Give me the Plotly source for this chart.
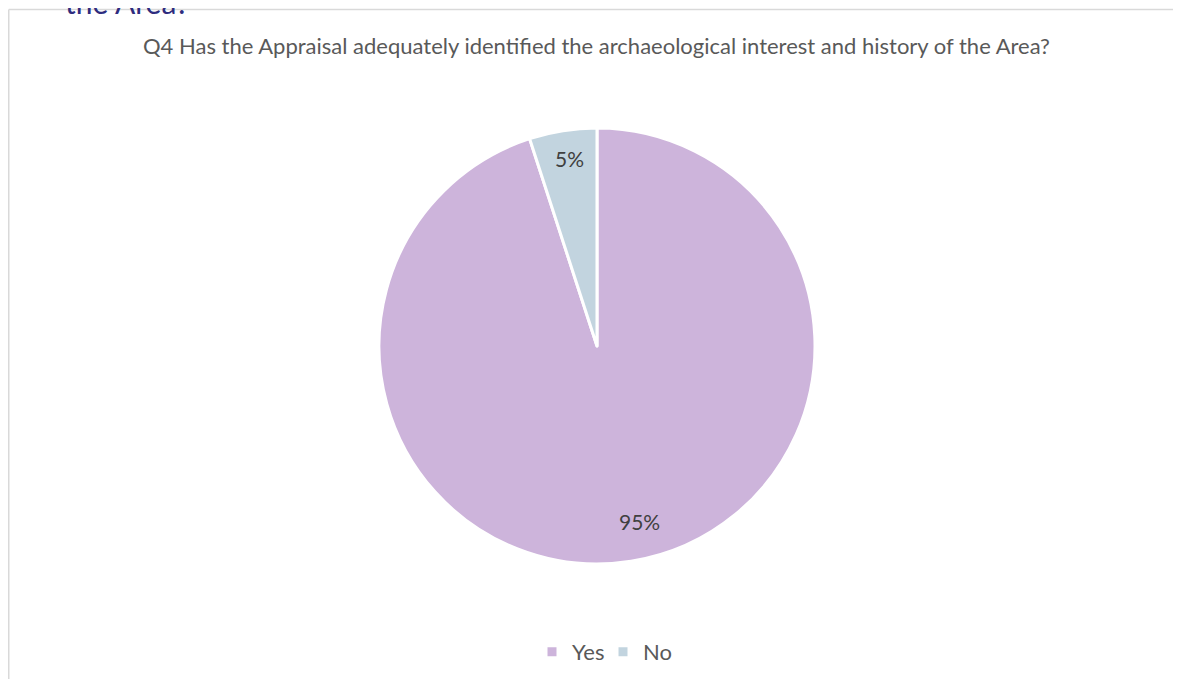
import math
import plotly.graph_objects as go

labels = ["Yes", "No"]
values = [95, 5]
colors = ["#CDB4DB", "#C2D4DF"]
title_text = "Q4 Has the Appraisal adequately identified the archaeological interest and history of the Area?"
heading_tail = "the Area?"

# label placement style (fraction of radius, angular nudge in degrees)
label_radius_frac = [0.83, 0.87]
label_angle_nudge = [-4.7, 0.8]

W, H = 1173, 671


def px_x(x):
    return x / W


def px_y(y):
    return 1 - y / H


cx, cy, r = 589, 338, 218

fig = go.Figure(go.Pie(
    labels=labels,
    values=values,
    sort=False,
    direction="clockwise",
    rotation=0,
    marker=dict(colors=colors, line=dict(color="white", width=3)),
    textinfo="none",
    domain=dict(x=[px_x(cx - r), px_x(cx + r)], y=[px_y(cy + r), px_y(cy - r)]),
    hoverinfo="label+percent",
))

# percentage labels placed from data-driven slice angles
total = sum(values)
annotations = []
start = 0.0
for i, v in enumerate(values):
    frac = v / total
    mid = (start + frac / 2) * 360 + label_angle_nudge[i]
    start += frac
    d = r * label_radius_frac[i]
    lx = cx + d * math.sin(math.radians(mid))
    ly = cy - d * math.cos(math.radians(mid))
    annotations.append(dict(
        text=f"{round(frac * 100)}%", x=px_x(lx), y=px_y(ly), xref="paper", yref="paper",
        showarrow=False, xanchor="center", yanchor="middle",
        font=dict(size=21, color="#404040", family="Lato"),
    ))

annotations += [
    dict(text=title_text, x=px_x(588), y=px_y(37), xref="paper", yref="paper",
         showarrow=False, xanchor="center", yanchor="middle",
         font=dict(size=22, color="#595959", family="Lato")),
    dict(text=heading_tail, x=px_x(55), y=px_y(14), xref="paper", yref="paper",
         showarrow=False, xanchor="left", yanchor="bottom",
         font=dict(size=30, color="#2E2C7E", family="Lato")),
]

fig.update_layout(
    width=W, height=H,
    margin=dict(l=0, r=0, t=0, b=0),
    paper_bgcolor="white",
    plot_bgcolor="white",
    font=dict(family="Lato", color="#595959"),
    showlegend=True,
    legend=dict(orientation="h", x=px_x(595), xanchor="center", y=px_y(644), yanchor="middle",
                font=dict(size=22, color="#595959"), itemwidth=30,
                entrywidth=26, entrywidthmode="pixels"),
    annotations=annotations,
    shapes=[
        dict(type="line", xref="paper", yref="paper", x0=px_x(0.75), x1=1, y0=px_y(1.5), y1=px_y(1.5),
             line=dict(color="#D9D9D9", width=1.5)),
        dict(type="line", xref="paper", yref="paper", x0=px_x(0.75), x1=px_x(0.75), y0=px_y(1.5), y1=0,
             line=dict(color="#D9D9D9", width=1.5)),
    ],
)

fig.write_html("out.html")
